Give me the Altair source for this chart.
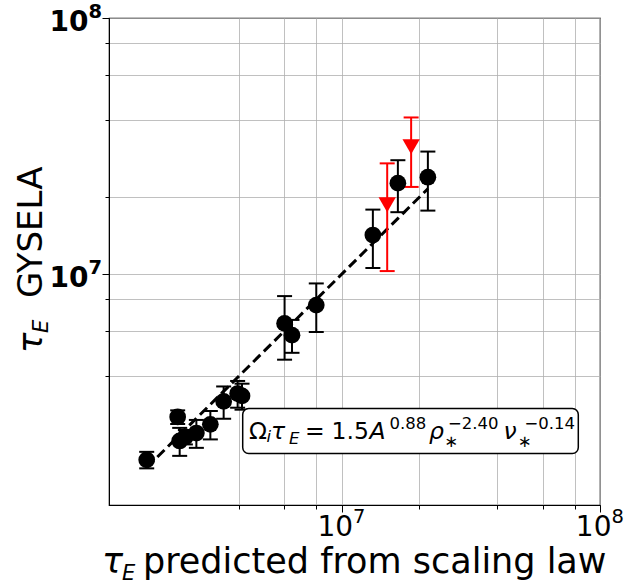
import altair as alt
import pandas as pd

# Energy confinement time: GYSELA runs vs. scaling-law prediction
predicted = [1.763e6, 2.323e6, 2.365e6, 2.488e6, 2.744e6, 3.108e6, 3.499e6, 3.963e6,
             4.121e6, 6.021e6, 6.432e6, 7.985e6, 1.322e7, 1.652e7, 2.158e7]
gysela = [1.891e6, 2.778e6, 2.239e6, 2.321e6, 2.405e6, 2.601e6, 3.194e6, 3.429e6,
          3.356e6, 6.437e6, 5.793e6, 7.588e6, 1.424e7, 2.268e7, 2.393e7]
gysela_err = [0.14e6, 0.17e6, 0.28e6, 0.15e6, 0.30e6, 0.33e6, 0.46e6, 0.41e6,
              0.39e6, 1.79e6, 0.85e6, 1.63e6, 3.65e6, 5.2e6, 6.2e6]

# runs that only give an upper bound
predicted_ub = [1.502e7, 1.859e7]
gysela_ub = [1.87e7, 3.143e7]
gysela_ub_err = [8.4e6, 9.5e6]

# labelled decades
decades = [1e7, 1e8]
exponents = ["7", "8"]

LEFT, TOP = 109, 18
W, H = 491, 487
FONT = "DejaVu Sans"

pts = pd.DataFrame({"pred": predicted, "gys": gysela})
pts["lo"] = pts["gys"] - pd.Series(gysela_err)
pts["hi"] = pts["gys"] + pd.Series(gysela_err)

ub = pd.DataFrame({"pred": predicted_ub, "gys": gysela_ub})
ub["lo"] = ub["gys"] - pd.Series(gysela_ub_err)
ub["hi"] = ub["gys"] + pd.Series(gysela_ub_err)

fit = pd.DataFrame({"v": [min(predicted), max(predicted)]})
dec = pd.DataFrame({"v": decades, "e": exponents})

xscale = alt.Scale(type="log", domain=[1.26e6, 1e8], nice=False)
yscale = alt.Scale(type="log", domain=[1.26e6, 1e8], nice=False)

tick_vals = [4e6, 6e6, 8e6, 1e7, 2e7, 4e7, 6e7, 8e7, 1e8]
major_test = "datum.value == 1e7 || datum.value == 1e8"


def make_axis():
    return alt.Axis(values=tick_vals, labels=False, title=None,
                    tickSize={"condition": {"test": major_test, "value": 7}, "value": 4},
                    tickColor="black", domainColor="black",
                    grid=True, gridColor="#b0b0b0", gridWidth=0.8)


CAP = "M-1,0L1,0"

line = alt.Chart(fit).mark_line(color="black", strokeWidth=3, strokeDash=[10, 5]).encode(
    x=alt.X("v:Q", scale=xscale, axis=make_axis()),
    y=alt.Y("v:Q", scale=yscale, axis=make_axis()),
)


def error_layers(df, color):
    base = alt.Chart(df)
    bars = base.mark_rule(color=color, strokeWidth=2).encode(
        x=alt.X("pred:Q", scale=xscale), y=alt.Y("lo:Q", scale=yscale), y2="hi:Q")
    lo = base.mark_point(shape=CAP, size=225, strokeWidth=2, color=color, opacity=1).encode(
        x=alt.X("pred:Q", scale=xscale), y=alt.Y("lo:Q", scale=yscale))
    hi = base.mark_point(shape=CAP, size=225, strokeWidth=2, color=color, opacity=1).encode(
        x=alt.X("pred:Q", scale=xscale), y=alt.Y("hi:Q", scale=yscale))
    return [bars, lo, hi]


dots = alt.Chart(pts).mark_point(shape="circle", filled=True, size=280, color="black",
                                 opacity=1).encode(
    x=alt.X("pred:Q", scale=xscale), y=alt.Y("gys:Q", scale=yscale))
tris = alt.Chart(ub).mark_point(shape="triangle-down", filled=True, size=300, color="red",
                                opacity=1).encode(
    x=alt.X("pred:Q", scale=xscale), y=alt.Y("gys:Q", scale=yscale))

# decade tick labels written as 10 with a raised exponent
LBL, SUP = 28, 19.5
xlab_base = alt.Chart(dec).mark_text(
    text="10", font=FONT, fontSize=LBL, align="right", baseline="alphabetic",
    dx=11.5, color="black").encode(
    x=alt.X("v:Q", scale=xscale), y=alt.value(H + 31))
xlab_exp = alt.Chart(dec).mark_text(
    font=FONT, fontSize=SUP, align="left", baseline="alphabetic",
    dx=11.5, color="black").encode(
    x=alt.X("v:Q", scale=xscale), y=alt.value(H + 18), text="e:N")
ylab_base = alt.Chart(dec).mark_text(
    text="10", font=FONT, fontSize=LBL, fontWeight="bold", align="right",
    baseline="alphabetic", dy=13, color="black").encode(
    y=alt.Y("v:Q", scale=yscale), x=alt.value(88.5 - LEFT))
ylab_exp = alt.Chart(dec).mark_text(
    font=FONT, fontSize=SUP, fontWeight="bold", align="left",
    baseline="alphabetic", dy=0, color="black").encode(
    y=alt.Y("v:Q", scale=yscale), x=alt.value(88.5 - LEFT), text="e:N")

EMPTY = alt.Data(values=[{}])


def txt(text, px, py, size, style="normal", angle=0):
    return alt.Chart(EMPTY).mark_text(
        text=text, x=px - LEFT, y=py - TOP, fontSize=size, font=FONT,
        fontStyle=style, align="left", baseline="alphabetic", angle=angle,
        color="black")


# boxed scaling-law formula
box = alt.Chart(EMPTY).mark_rect(
    fill="white", stroke="black", strokeWidth=1.5, cornerRadius=6).encode(
    x=alt.value(242.7 - LEFT), x2=alt.value(578.3 - LEFT),
    y=alt.value(408.5 - TOP), y2=alt.value(453.5 - TOP))

M, S = 23.5, 16.5
base_y, sup_y, sub_y = 438.5, 429, 443.5
formula = [
    txt("Ω", 249, base_y, M),
    txt("i", 266.5, sub_y - 1.5, S, "italic"),
    txt("τ", 271, base_y, M, "italic"),
    txt("E", 289, sub_y, S, "italic"),
    txt("=", 305, base_y, M),
    txt("1.5", 331.5, base_y, M),
    txt("A", 369.5, base_y, M, "italic"),
    txt("0.88", 389.5, sup_y, S),
    txt("ρ", 429, base_y, M, "italic"),
    txt("∗", 444.5, 447, S),
    txt("−2.40", 448, sup_y, S),
    txt("ν", 503.5, base_y, M, "italic"),
    txt("∗", 518, 447, S),
    txt("−0.14", 524.5, sup_y, S),
]

# axis titles
titles = [
    txt("τ", 102, 573, 35, "italic"),
    txt("E", 122, 579.5, 21, "italic"),
    txt("predicted from scaling law", 143, 573, 35),
    txt("τ", 42, 353, 34, "italic", angle=270),
    txt("E", 47.5, 333, 21, "italic", angle=270),
    txt("GYSELA", 42, 298, 34, angle=270),
]

layers = ([line] + error_layers(pts, "black") + error_layers(ub, "red")
          + [dots, tris, box, xlab_base, xlab_exp, ylab_base, ylab_exp]
          + formula + titles)

chart = alt.layer(*layers).properties(
    width=W, height=H,
    padding={"left": LEFT, "top": TOP, "right": 625 - LEFT - W, "bottom": 584 - TOP - H},
    autosize=alt.AutoSizeParams(type="none"),
    background="white",
).configure_view(stroke="black", strokeWidth=1.2)

chart.save("out.html", embed_options={"renderer": "svg", "actions": False})
